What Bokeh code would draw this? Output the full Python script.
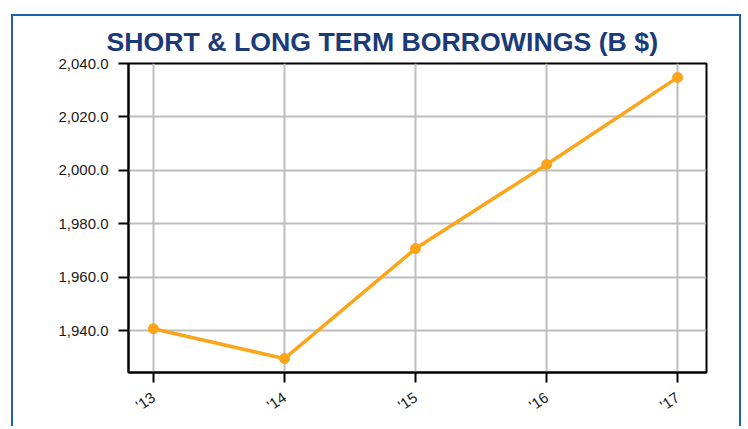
from bokeh.plotting import figure
from bokeh.layouts import column
from bokeh.models import Range1d, FixedTicker, Title, NumeralTickFormatter
from bokeh.embed import file_html
from bokeh.resources import INLINE

years = [13, 14, 15, 16, 17]
year_labels = ["'13", "'14", "'15", "'16", "'17"]
borrowings = [1940.7, 1929.5, 1970.7, 2002.2, 2034.8]
y_ticks = [1940, 1960, 1980, 2000, 2020, 2040]

ORANGE = "#fca51a"
NAVY = "#1b3a78"

p = figure(width=726, height=410, output_backend="svg", toolbar_location=None,
           x_range=Range1d(12.81, 17.22), y_range=Range1d(1924.3, 2040.0),
           min_border_left=115, min_border_right=33, min_border_bottom=54, min_border_top=47)

t = Title(text="SHORT & LONG TERM BORROWINGS (B $)", align="left", offset=-22,
          text_font="Liberation Sans", text_font_size="26.7px", text_font_style="bold",
          text_color=NAVY, standoff=14)
p.add_layout(t, "above")

p.line(years, borrowings, color=ORANGE, line_width=3.5)
p.scatter(years, borrowings, color=ORANGE, size=10)

p.xaxis.ticker = FixedTicker(ticks=years)
p.xaxis.major_label_overrides = {y: l for y, l in zip(years, year_labels)}
p.xaxis.major_label_orientation = 0.6
p.yaxis.ticker = FixedTicker(ticks=y_ticks)
p.yaxis.formatter = NumeralTickFormatter(format="0,0.0")

for ax in (p.xaxis, p.yaxis):
    ax.axis_line_color = "black"
    ax.axis_line_width = 2
    ax.major_tick_line_color = "black"
    ax.major_tick_line_width = 2
    ax.major_tick_out = 10
    ax.major_tick_in = 0
    ax.minor_tick_line_color = None
    ax.major_label_text_font = "Liberation Sans"
    ax.major_label_text_font_size = "15px"
    ax.major_label_text_color = "#1a1a1a"
p.yaxis.major_label_standoff = 10
p.xaxis.major_label_standoff = 13

p.xgrid.grid_line_color = "#bdbdbd"
p.ygrid.grid_line_color = "#bdbdbd"
p.xgrid.grid_line_width = 2
p.ygrid.grid_line_width = 2
p.outline_line_color = "black"
p.outline_line_width = 2
p.outline_line_alpha = 1

layout = column(p, margin=(14, 0, 0, 11),
                styles={"border": "2.5px solid #1f5fae", "border-bottom": "none"})

open("out.html", "w").write(file_html(layout, INLINE))
